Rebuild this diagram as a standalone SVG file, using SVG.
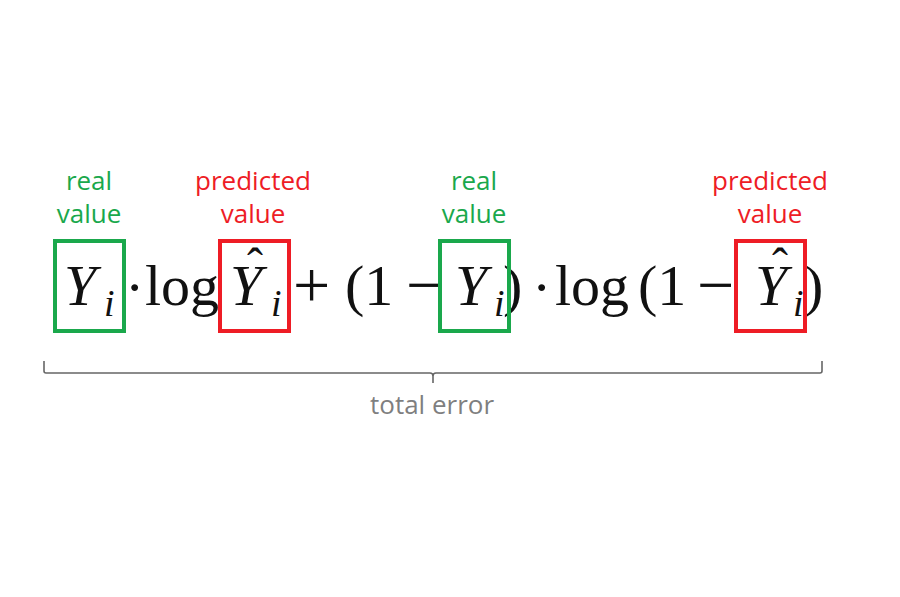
<svg xmlns="http://www.w3.org/2000/svg" width="900" height="597" viewBox="0 0 900 597">
<style>
.m{font-family:"Liberation Serif","DejaVu Serif",serif;font-size:58px;fill:#111}
.mi{font-family:"Liberation Serif","DejaVu Serif",serif;font-size:58px;font-style:italic;fill:#111}
.s{font-family:"Liberation Serif","DejaVu Serif",serif;font-size:38px;font-style:italic;fill:#111}
.h{font-family:"Liberation Serif","DejaVu Serif",serif;font-size:48px;fill:#111}
.lbl{font-family:"Open Sans","Liberation Sans",sans-serif;font-size:26px;text-anchor:middle}
.g{fill:#1aa84c}
.r{fill:#ee1c25}
.gb{fill:none;stroke:#1aa84c;stroke-width:4}
.rb{fill:none;stroke:#ee1c25;stroke-width:4}
</style>
<rect width="900" height="597" fill="#fff"/>
<g id="formula">
<text class="mi" x="64" y="305">Y</text><text class="s" x="104" y="316">i</text>
<text class="m" x="125" y="307">·</text>
<text class="m" x="145" y="305">log</text>
<text class="mi" x="230" y="305">Y</text><text class="s" x="271" y="316">i</text>
<text class="h" x="247" y="282">ˆ</text>
<text class="m" x="293" y="307" style="font-size:66px">+</text>
<text class="m" x="345" y="305">(1</text>
<text class="m" x="406" y="307" style="font-size:66px">−</text>
<text class="mi" x="455" y="305">Y</text><text class="s" x="494" y="316">i</text>
<text class="m" x="503" y="305">)</text>
<text class="m" x="532" y="307">·</text>
<text class="m" x="555" y="305">log</text>
<text class="m" x="638" y="305">(1</text>
<text class="m" x="697" y="307" style="font-size:66px">−</text>
<text class="mi" x="755" y="305">Y</text><text class="s" x="793" y="316">i</text>
<text class="h" x="772" y="282">ˆ</text>
<text class="m" x="804" y="305">)</text>
</g>
<g id="real1"><rect class="gb" x="55" y="241" width="69" height="90"/>
<text class="lbl g" x="89" y="190">real</text><text class="lbl g" x="89" y="223">value</text></g>
<g id="pred1"><rect class="rb" x="220" y="241" width="69" height="90"/>
<text class="lbl r" x="253" y="190">predicted</text><text class="lbl r" x="253" y="223">value</text></g>
<g id="real2"><rect class="gb" x="440" y="241" width="69" height="90"/>
<text class="lbl g" x="474" y="190">real</text><text class="lbl g" x="474" y="223">value</text></g>
<g id="pred2"><rect class="rb" x="736" y="241" width="69" height="90"/>
<text class="lbl r" x="770" y="190">predicted</text><text class="lbl r" x="770" y="223">value</text></g>
<g id="connectors">
<path d="M44 361 V371 Q44 373 46 373 H430 Q433 373 433 376 V383 M433 376 Q433 373 436 373 H820 Q822 373 822 371 V361" fill="none" stroke="#666" stroke-width="1.6"/>
</g>
<g id="total"><text class="lbl" x="432" y="414" fill="#7f7f7f">total error</text></g>
</svg>
